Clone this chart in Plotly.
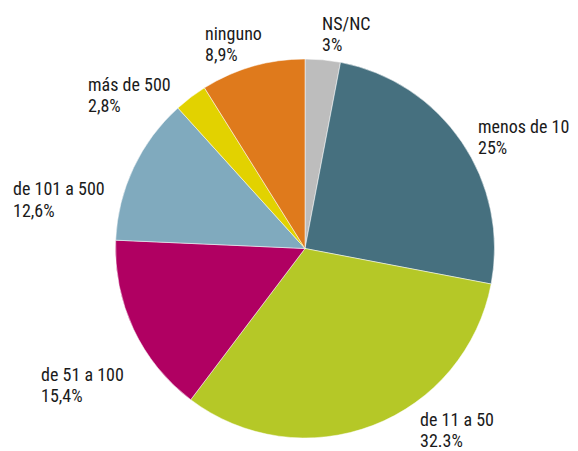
import plotly.graph_objects as go

categories = ["NS/NC", "menos de 10", "de 11 a 50", "de 51 a 100", "de 101 a 500", "más de 500", "ninguno"]
values = [3, 25, 32.3, 15.4, 12.6, 2.8, 8.9]
value_labels = ["3%", "25%", "32.3%", "15,4%", "12,6%", "2,8%", "8,9%"]
colors = ["#bdbdbd", "#46707f", "#b5c827", "#b00062", "#80aabe", "#e2d200", "#df7a1c"]

W, H = 578, 451
# label text left / cap-top positions in pixels
label_pos = [(320, 17), (476, 120), (418, 413), (39, 368), (11, 182.5), (86, 78), (203, 27)]
LINE = 21.5
CAP_OFF = 6.3
FONT = dict(family="Liberation Sans Narrow, Roboto Condensed, Roboto, sans-serif", size=18, color="#1a1a1a")

fig = go.Figure(go.Pie(
    labels=categories, values=values, sort=False, direction="clockwise", rotation=0,
    marker=dict(colors=colors, line=dict(color="white", width=0.5)),
    textinfo="none", hoverinfo="label+percent", showlegend=False,
    domain=dict(x=[115 / W, 495 / W], y=[1 - 438 / H, 1 - 59 / H]),
))

for cat, lab, (px, py) in zip(categories, value_labels, label_pos):
    for i, t in enumerate([cat, lab]):
        fig.add_annotation(
            x=px / W, y=1 - (py - CAP_OFF + i * LINE) / H, xref="paper", yref="paper",
            xanchor="left", yanchor="top", align="left", showarrow=False,
            text=t, font=FONT,
        )

fig.update_layout(width=W, height=H, margin=dict(l=0, r=0, t=0, b=0),
                  paper_bgcolor="white", plot_bgcolor="white")
fig.write_html("out.html", config={"displayModeBar": False},
               post_script="document.body.style.margin='0';")
